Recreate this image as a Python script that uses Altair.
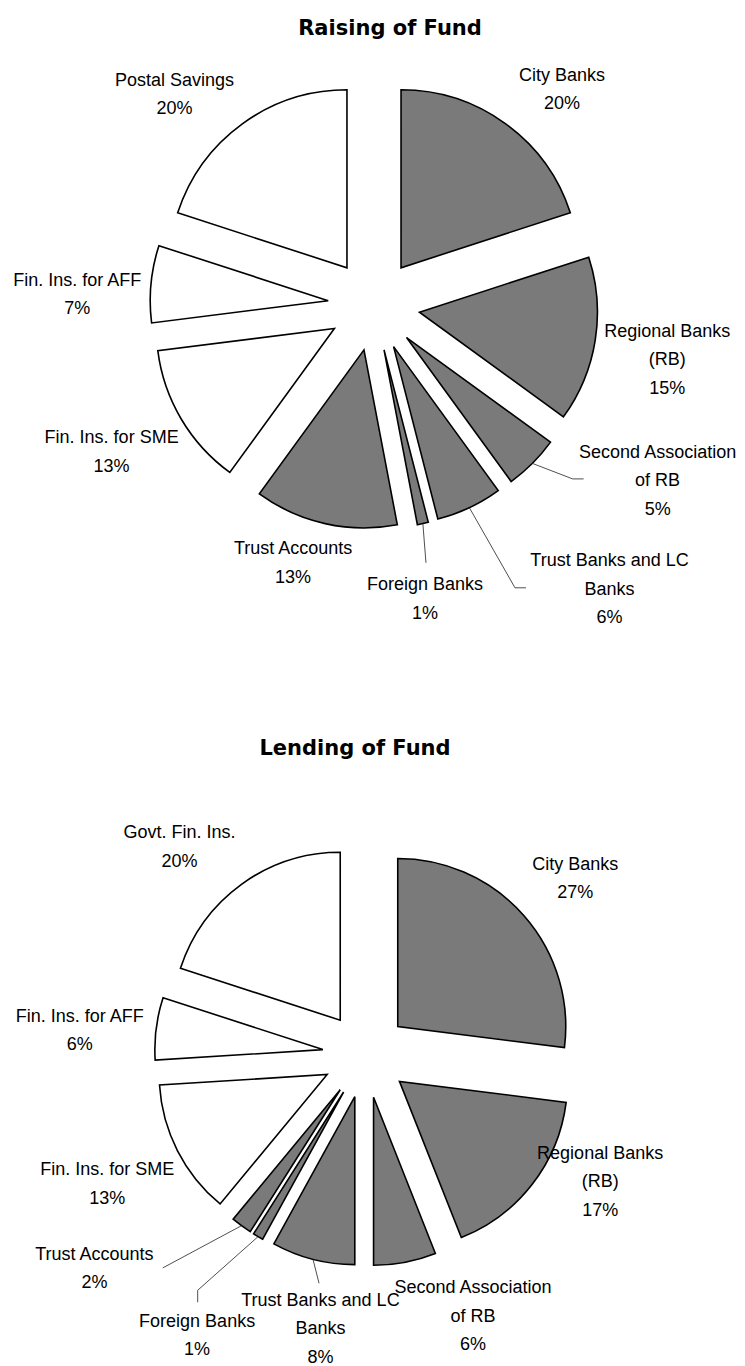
import math
import altair as alt
import pandas as pd

# ---------------- data ----------------
titles = ["Raising of Fund", "Lending of Fund"]

raising_categories = ["City Banks", "Regional Banks (RB)", "Second Association of RB",
                      "Trust Banks and LC Banks", "Foreign Banks", "Trust Accounts",
                      "Fin. Ins. for SME", "Fin. Ins. for AFF", "Postal Savings"]
raising_share = [20, 15, 5, 6, 1, 13, 13, 7, 20]
raising_sector = ["Private", "Private", "Private", "Private", "Private", "Private",
                  "Public", "Public", "Public"]
raising_labels = ["City Banks\n20%", "Regional Banks\n(RB)\n15%", "Second Association\nof RB\n5%",
                  "Trust Banks and LC\nBanks\n6%", "Foreign Banks\n1%", "Trust Accounts\n13%",
                  "Fin. Ins. for SME\n13%", "Fin. Ins. for AFF\n7%", "Postal Savings\n20%"]

lending_categories = ["City Banks", "Regional Banks (RB)", "Second Association of RB",
                      "Trust Banks and LC Banks", "Foreign Banks", "Trust Accounts",
                      "Fin. Ins. for SME", "Fin. Ins. for AFF", "Govt. Fin. Ins."]
lending_share = [27, 17, 6, 8, 1, 2, 13, 6, 20]
lending_sector = ["Private", "Private", "Private", "Private", "Private", "Private",
                  "Public", "Public", "Public"]
lending_labels = ["City Banks\n27%", "Regional Banks\n(RB)\n17%", "Second Association\nof RB\n6%",
                  "Trust Banks and LC\nBanks\n8%", "Foreign Banks\n1%", "Trust Accounts\n2%",
                  "Fin. Ins. for SME\n13%", "Fin. Ins. for AFF\n6%", "Govt. Fin. Ins.\n20%"]

# ---------------- layout ----------------
# label block centres, polar about the pie centre (degrees clockwise from 12 o'clock, px)
raising_label_angle = [40.9, 100.3, 121.6, 140.2, 170.1, 197.5, 241.0, 272.3, 316.7]
raising_label_dist = [287, 298, 333, 368, 297, 269, 300, 297, 291]
# leader lines: slice index, elbow angle, elbow distance, stub dx, stub dy
raising_leaders = [(2, 131.2, 264, 11, 0), (3, 153.5, 316, 11, 0), (4, 168.6, 263, 0, 0)]

lending_label_angle = [49.7, 118.1, 157.5, 189.4, 211.1, 232.0, 243.7, 275.2, 318.4]
lending_label_dist = [275, 266, 281, 276, 326, 344, 288, 287, 280]
lending_leaders = [(3, 191.5, 233, 0, 0), (4, 215.5, 289, 0, 12), (5, 223.6, 294, 0, 0)]

W, H = 729, 1358
PIE1 = dict(cx=366, cy=297, radius=178, explode=46)
PIE2 = dict(cx=357.5, cy=1047, radius=168, explode=43)
TITLE_POS = [(382, 26.5), (347, 747)]

LABEL_FONT = "Liberation Sans"
LABEL_SIZE = 18
LINE_H = 28.5
TITLE_FONT = "DejaVu Sans"

xs = alt.Scale(domain=[0, W], range=[0, W], nice=False, zero=False)
ys = alt.Scale(domain=[0, H], range=[0, H], nice=False, zero=False)


def polar(angle_deg, dist):
    a = math.radians(angle_deg)
    return dist * math.sin(a), -dist * math.cos(a)


def pie_layers(cats, shares, sector, labels, lab_ang, lab_dist, leaders, cx, cy, radius, explode):
    total = sum(shares)
    rows, cum, mids = [], 0.0, []
    for i, (c, s) in enumerate(zip(cats, shares)):
        t0, t1 = cum, cum + s
        cum = t1
        mid = (t0 + t1) / 2 / total * 360.0
        mids.append(mid)
        ox, oy = polar(mid, explode)
        rows.append(dict(category=c, share=s, t0=t0, t1=t1, x=cx + ox, y=cy + oy, sector=sector[i]))
    slices = pd.DataFrame(rows)

    lrows = []
    for i, lab in enumerate(labels):
        lx, ly = polar(lab_ang[i], lab_dist[i])
        n = lab.count("\n") + 1
        # vega puts the first line at y; shift so the block is centred on the anchor
        lrows.append(dict(category=cats[i], label=lab, x=cx + lx, y=cy + ly - (n - 1) * LINE_H / 2))
    labdf = pd.DataFrame(lrows)

    prow = []
    for k, (idx, ea, ed, sdx, sdy) in enumerate(leaders):
        sx, sy = polar(mids[idx], radius + explode)
        ex, ey = polar(ea, ed)
        prow.append(dict(leader=k, pt=0, x=cx + sx, y=cy + sy))
        prow.append(dict(leader=k, pt=1, x=cx + ex, y=cy + ey))
        prow.append(dict(leader=k, pt=2, x=cx + ex + sdx, y=cy + ey + sdy))
    leadf = pd.DataFrame(prow)

    ts = alt.Scale(domain=[0, total], range=[0, 2 * math.pi])

    arcs = alt.Chart(slices).mark_arc(radius=radius, stroke="black", strokeWidth=1.6).encode(
        theta=alt.Theta("t0:Q", scale=ts, stack=False),
        theta2="t1:Q",
        x=alt.X("x:Q", scale=xs, axis=None),
        y=alt.Y("y:Q", scale=ys, axis=None),
        fill=alt.Fill("sector:N", scale=alt.Scale(domain=["Private", "Public"],
                                                  range=["#7a7a7a", "#ffffff"]), legend=None),
    )
    lines = alt.Chart(leadf).mark_line(color="#222222", strokeWidth=0.8).encode(
        x=alt.X("x:Q", scale=xs, axis=None),
        y=alt.Y("y:Q", scale=ys, axis=None),
        detail="leader:N",
        order="pt:Q",
    )
    text = alt.Chart(labdf).mark_text(font=LABEL_FONT, fontSize=LABEL_SIZE, lineBreak="\n",
                                      lineHeight=LINE_H, align="center", baseline="middle",
                                      dy=2, color="black").encode(
        x=alt.X("x:Q", scale=xs, axis=None),
        y=alt.Y("y:Q", scale=ys, axis=None),
        text="label:N",
    )
    return [arcs, lines, text]


layers = []
layers += pie_layers(raising_categories, raising_share, raising_sector, raising_labels,
                     raising_label_angle, raising_label_dist, raising_leaders, **PIE1)
layers += pie_layers(lending_categories, lending_share, lending_sector, lending_labels,
                     lending_label_angle, lending_label_dist, lending_leaders, **PIE2)

title_df = pd.DataFrame({"title": titles,
                         "x": [p[0] for p in TITLE_POS],
                         "y": [p[1] for p in TITLE_POS]})
title_layer = alt.Chart(title_df).mark_text(font=TITLE_FONT, fontSize=21, fontWeight="bold",
                                            align="center", baseline="alphabetic",
                                            color="black").encode(
    x=alt.X("x:Q", scale=xs, axis=None),
    y=alt.Y("y:Q", scale=ys, axis=None),
    text="title:N",
)
layers.append(title_layer)

chart = alt.layer(*layers).properties(
    width=W, height=H,
    autosize=alt.AutoSizeParams(type="none"),
    padding=0,
    background="white",
).configure_view(stroke="transparent", strokeWidth=0)

chart.save("out.html", embed_options={"renderer": "svg", "actions": False})
